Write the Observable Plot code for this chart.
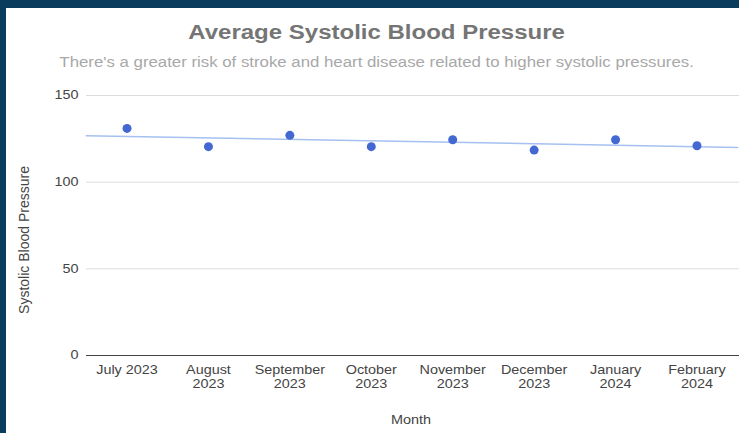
<!DOCTYPE html>
<html>
<head>
<meta charset="utf-8">
<script src="https://cdn.jsdelivr.net/npm/d3@7"></script>
<script src="https://cdn.jsdelivr.net/npm/@observablehq/plot@0.6"></script>
<style>
  html, body { margin: 0; padding: 0; }
  body { width: 739px; height: 433px; background: #0a3d5d; position: relative; overflow: hidden; font-family: "Liberation Sans", Arial, sans-serif; }
  #panel { position: absolute; left: 6px; top: 8px; width: 733px; height: 425px; background: #fff; overflow: hidden; }
  #title { position: absolute; left: 0; width: 741px; top: 13px; text-align: center; font-size: 20px; font-weight: bold; color: #757575; transform: scaleX(1.2); transform-origin: 370px 0; }
  #subtitle { position: absolute; left: 0; width: 741px; top: 46px; text-align: center; font-size: 14px; color: #a8a8a8; transform: scaleX(1.2); transform-origin: 370px 0; }
  #chart { position: absolute; left: 0; top: 72px; }
  #ylabel { position: absolute; left: 18px; top: 232px; transform: translate(-50%, -50%) rotate(-90deg); white-space: nowrap; font-size: 14px; color: #444; }
  #xlabel { position: absolute; left: 405px; top: 405px; transform: translateX(-50%) scaleX(1.2); font-size: 12px; color: #444; }
</style>
</head>
<body>
<div id="panel">
  <div id="title">Average Systolic Blood Pressure</div>
  <div id="subtitle">There's a greater risk of stroke and heart disease related to higher systolic pressures.</div>
  <div id="chart"></div>
  <div id="ylabel">Systolic Blood Pressure</div>
  <div id="xlabel">Month</div>
</div>
<script>
const months = ["July 2023", "August\n2023", "September\n2023", "October\n2023", "November\n2023", "December\n2023", "January\n2024", "February\n2024"];
const pressure = [131, 120.5, 127, 120.5, 124.5, 118.5, 124.5, 121];
const yTicks = [0, 50, 100, 150];

const data = months.map((m, i) => ({i, month: m, value: pressure[i]}));

// least-squares trendline computed from the data
const mx = d3.mean(data, d => d.i), my = d3.mean(data, d => d.value);
const slope = d3.sum(data, d => (d.i - mx) * (d.value - my)) / d3.sum(data, d => (d.i - mx) ** 2);
const xDomain = [-0.5, months.length - 0.5];
const trend = xDomain.map(x => ({x, y: my + slope * (x - mx)}));

const W = 733, H = 353;
const chart = Plot.plot({
  width: W,
  height: H,
  marginLeft: 80,
  marginRight: 0,
  marginTop: 15,
  marginBottom: 78,
  style: {fontFamily: "'Liberation Sans', Arial, sans-serif", fontSize: "12px", color: "#444", background: "transparent"},
  x: {domain: xDomain, range: [79.8, 731.2]},
  y: {domain: [0, 150], range: [H - 78, 15]},
  marks: [
    Plot.gridY(yTicks, {stroke: "#dcdcdc", strokeOpacity: 1, strokeWidth: 1}),
    Plot.ruleY([0], {stroke: "#444", strokeWidth: 1}),
    Plot.axisY(yTicks, {tickSize: 0, tickPadding: 8, label: null, fill: "#444", fontSize: 12}),
    Plot.axisX(d3.range(months.length), {tickSize: 0, tickPadding: 8, tickFormat: i => months[i], label: null, fill: "#444", fontSize: 12, lineHeight: 1.2}),
    Plot.line(trend, {x: "x", y: "y", stroke: "#8fb0ee", strokeWidth: 1.5, strokeOpacity: 0.8}),
    Plot.dot(data, {x: "i", y: "value", r: 4.5, fill: "#4468d2", stroke: "none"})
  ]
});
// widen the axis labels horizontally about their anchor points, like the reference lettering
d3.select(chart).selectAll("[aria-label$='tick label'] text").each(function() {
  const t = this.getAttribute("transform") || "";
  this.setAttribute("transform", t + " scale(1.2,1)");
});
document.getElementById("chart").appendChild(chart);
</script>
</body>
</html>
